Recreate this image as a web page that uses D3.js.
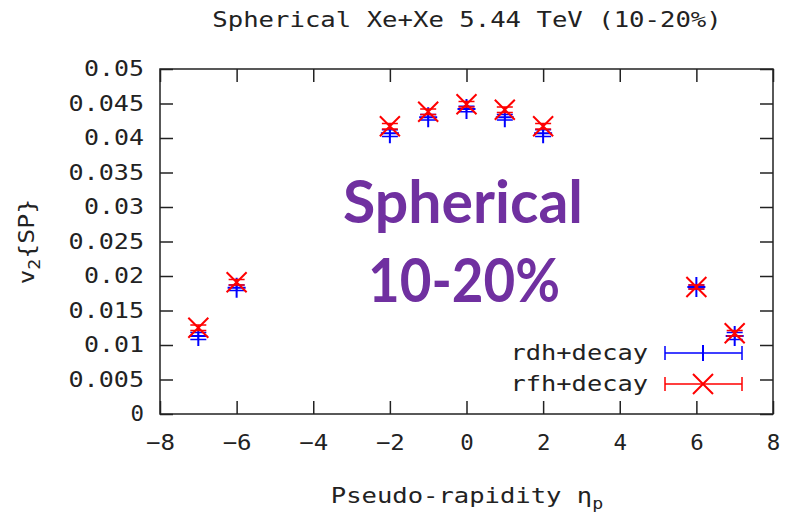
<!DOCTYPE html>
<html>
<head>
<meta charset="utf-8">
<title>Spherical Xe+Xe v2</title>
<script src="https://cdn.jsdelivr.net/npm/d3@7"></script>
<style>
    body { margin: 0; background: #fff; }
    .mono { font-family: "DejaVu Sans Mono", monospace; font-size: 21px; fill: #222; }
    .axis path { display: none; }
    .axis line { stroke: #222; stroke-width: 1.5; }
    .axis text { font-family: "DejaVu Sans Mono", monospace; font-size: 21px; fill: #222; }
</style>
</head>
<body>
<div id="chart"></div>
<script>
    // data
    const eta = [-7, -6, -2, -1, 0, 1, 2, 6, 7];
    const rdh = [0.0113, 0.0183, 0.0407, 0.0430, 0.0442, 0.0430, 0.0407, 0.0184, 0.0113];
    const rdhErr = [0.0005, 0.0004, 0.0005, 0.0004, 0.0004, 0.0004, 0.0005, 0.0003, 0.0005];
    const rfh = [0.0125, 0.0191, 0.0417, 0.0438, 0.0449, 0.0441, 0.0417, 0.0184, 0.0117];
    const rfhErr = [0.0004, 0.0004, 0.0004, 0.0004, 0.0004, 0.0004, 0.0004, 0.0003, 0.0004];
    const xTicks = [-8, -6, -4, -2, 0, 2, 4, 6, 8];
    const yTicks = [0, 0.005, 0.01, 0.015, 0.02, 0.025, 0.03, 0.035, 0.04, 0.045, 0.05];
    const seriesNames = ["rdh+decay", "rfh+decay"];

    const width = 788, height = 520;
    const margin = { top: 69, right: 15, bottom: 106, left: 160 };
    const cw = 15.5; // wide monospace advance in the picture

    // stretch monospace text to the wide advance of the original
    function widen(sel) {
        sel.each(function () {
            const t = d3.select(this);
            const n = t.text().length;
            if (n > 0) t.attr("textLength", n * cw - 2).attr("lengthAdjust", "spacingAndGlyphs");
        });
    }

    const svg = d3.select("#chart").append("svg")
        .attr("width", width)
        .attr("height", height);

    const x = d3.scaleLinear().domain([-8, 8]).range([margin.left, width - margin.right]);
    const y = d3.scaleLinear().domain([0, 0.05]).range([height - margin.bottom, margin.top]);

    // axes with inward ticks on all sides
    const xb = svg.append("g").attr("class", "axis")
        .attr("transform", `translate(0,${y(0)})`)
        .call(d3.axisBottom(x).tickValues(xTicks).tickSizeInner(-13).tickSizeOuter(0).tickPadding(21)
            .tickFormat(d => d < 0 ? "\u2212" + Math.abs(d) : d));
    widen(xb.selectAll("text"));

    svg.append("g").attr("class", "axis")
        .attr("transform", `translate(0,${y(0.05)})`)
        .call(d3.axisTop(x).tickValues(xTicks).tickSizeInner(-13).tickSizeOuter(0).tickFormat(""));

    const yl = svg.append("g").attr("class", "axis")
        .attr("transform", `translate(${x(-8)},0)`)
        .call(d3.axisLeft(y).tickValues(yTicks).tickSizeInner(-13).tickSizeOuter(0).tickPadding(16)
            .tickFormat(d => d === 0 ? "0" : String(+d.toFixed(3))));
    widen(yl.selectAll("text"));

    svg.append("g").attr("class", "axis")
        .attr("transform", `translate(${x(8)},0)`)
        .call(d3.axisRight(y).tickValues(yTicks).tickSizeInner(-13).tickSizeOuter(0).tickFormat(""));

    // frame
    svg.append("rect")
        .attr("x", x(-8)).attr("y", y(0.05))
        .attr("width", x(8) - x(-8)).attr("height", y(0) - y(0.05))
        .attr("fill", "none").attr("stroke", "#222").attr("stroke-width", 1.5);

    // title
    svg.append("text").attr("class", "mono")
        .attr("x", 467).attr("y", 27)
        .attr("text-anchor", "middle")
        .text("Spherical Xe+Xe 5.44 TeV (10-20%)")
        .call(widen);

    // axis labels
    const xl = svg.append("text").attr("class", "mono")
        .attr("x", 467).attr("y", 503)
        .attr("text-anchor", "middle");
    xl.append("tspan").text("Pseudo-rapidity \u03b7")
        .attr("textLength", 17 * cw - 2).attr("lengthAdjust", "spacingAndGlyphs");
    xl.append("tspan").attr("font-size", 15).attr("dy", 6).text("p")
        .attr("textLength", 11).attr("lengthAdjust", "spacingAndGlyphs");

    const ylab = svg.append("text").attr("class", "mono")
        .attr("transform", `translate(34,${(y(0) + y(0.05)) / 2}) rotate(-90)`)
        .attr("text-anchor", "middle");
    ylab.append("tspan").text("v")
        .attr("textLength", cw - 1).attr("lengthAdjust", "spacingAndGlyphs");
    ylab.append("tspan").attr("font-size", 15).attr("dy", 6).text("2")
        .attr("textLength", 11).attr("lengthAdjust", "spacingAndGlyphs");
    ylab.append("tspan").attr("dy", -6).text("{SP}")
        .attr("textLength", 4 * cw - 2).attr("lengthAdjust", "spacingAndGlyphs");

    // overlay text
    const purple = "#7030A0";
    svg.append("text")
        .attr("x", 463).attr("y", 223)
        .attr("text-anchor", "middle")
        .attr("font-family", "Lato, 'Open Sans', sans-serif")
        .attr("font-weight", "bold").attr("font-size", 60)
        .attr("textLength", 240).attr("lengthAdjust", "spacingAndGlyphs")
        .attr("fill", purple).text("Spherical");
    svg.append("text")
        .attr("x", 464).attr("y", 302)
        .attr("text-anchor", "middle")
        .attr("font-family", "Lato, 'Open Sans', sans-serif")
        .attr("font-weight", "bold").attr("font-size", 62)
        .attr("textLength", 192).attr("lengthAdjust", "spacingAndGlyphs")
        .attr("fill", purple).text("10-20%");

    const blue = "#0000ff", red = "#ff0000";
    const cap = 8;

    function errorBars(g, vals, errs, color) {
        g.selectAll(null).data(eta).enter().append("path")
            .attr("d", (d, i) => {
                const cx = x(d), lo = y(vals[i] - errs[i]), hi = y(vals[i] + errs[i]);
                return `M${cx},${lo}V${hi}M${cx - cap},${lo}H${cx + cap}M${cx - cap},${hi}H${cx + cap}`;
            })
            .attr("stroke", color).attr("stroke-width", 1.5).attr("fill", "none");
    }

    // rdh+decay: blue plus
    const gb = svg.append("g");
    errorBars(gb, rdh, rdhErr, blue);
    gb.selectAll(null).data(eta).enter().append("path")
        .attr("d", (d, i) => {
            const cx = x(d), cy = y(rdh[i]);
            return `M${cx - 9},${cy}H${cx + 9}M${cx},${cy - 10}V${cy + 10}`;
        })
        .attr("stroke", blue).attr("stroke-width", 2).attr("fill", "none");

    // rfh+decay: red cross
    const gr = svg.append("g");
    errorBars(gr, rfh, rfhErr, red);
    gr.selectAll(null).data(eta).enter().append("path")
        .attr("d", (d, i) => {
            const cx = x(d), cy = y(rfh[i]);
            return `M${cx - 10},${cy - 10}L${cx + 10},${cy + 10}M${cx - 10},${cy + 10}L${cx + 10},${cy - 10}`;
        })
        .attr("stroke", red).attr("stroke-width", 2).attr("fill", "none");

    // legend
    const legendY = [353, 384];
    const legendColors = [blue, red];
    seriesNames.forEach((name, i) => {
        const ly = legendY[i];
        svg.append("text").attr("class", "mono")
            .attr("x", 648).attr("y", ly + 7)
            .attr("text-anchor", "end").text(name)
            .call(widen);
        svg.append("path")
            .attr("d", `M665,${ly}H742M665,${ly - 7}V${ly + 7}M742,${ly - 7}V${ly + 7}`)
            .attr("stroke", legendColors[i]).attr("stroke-width", 1.5).attr("fill", "none");
        const mk = i === 0
            ? `M703,${ly - 8}V${ly + 8}`
            : `M693,${ly - 10}L713,${ly + 10}M693,${ly + 10}L713,${ly - 10}`;
        svg.append("path").attr("d", mk)
            .attr("stroke", legendColors[i]).attr("stroke-width", 2).attr("fill", "none");
    });
</script>
</body>
</html>
